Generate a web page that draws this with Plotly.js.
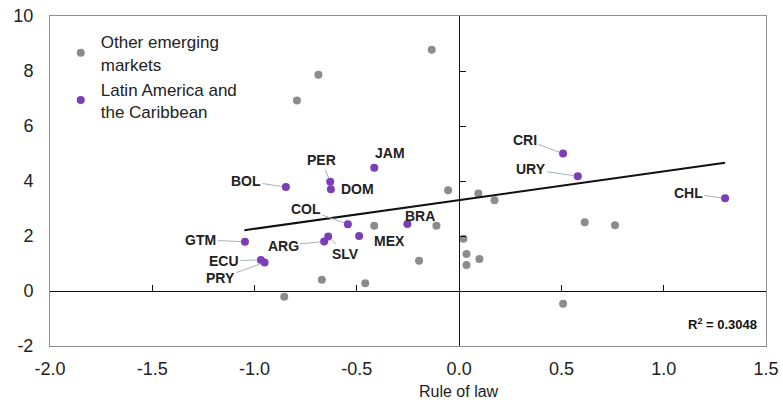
<!DOCTYPE html>
<html>
<head>
<meta charset="utf-8">
<script src="https://cdn.plot.ly/plotly-3.0.1.min.js"></script>
<style>html,body{margin:0;padding:0;background:#fff;}#chart{width:783px;height:405px;}</style>
</head>
<body>
<div id="chart"></div>
<script>
// ---- data ----
const otherX = [-0.134, -0.688, -0.793, -0.054, 0.094, 0.173, -0.415, -0.111, 0.021, 0.614, 0.762, 0.036, 0.099, 0.036, -0.196, -0.671, -0.459, -0.855, 0.508];
const otherY = [8.77, 7.86, 6.93, 3.66, 3.55, 3.30, 2.37, 2.37, 1.90, 2.50, 2.39, 1.35, 1.16, 0.95, 1.10, 0.41, 0.28, -0.21, -0.46];

const latCodes = ["JAM", "PER", "DOM", "BOL", "COL", "BRA", "MEX", "SLV", "ARG", "GTM", "ECU", "PRY", "CRI", "URY", "CHL"];
const latX = [-0.415, -0.630, -0.627, -0.847, -0.544, -0.253, -0.489, -0.640, -0.660, -1.047, -0.969, -0.951, 0.508, 0.580, 1.300];
const latY = [4.48, 3.97, 3.70, 3.78, 2.43, 2.44, 2.00, 1.98, 1.80, 1.79, 1.13, 1.04, 5.00, 4.17, 3.37];

const trendX = [-1.05, 1.30];
const trendY = [2.21, 4.66];

const xTickVals = [-2, -1.5, -1, -0.5, 0, 0.5, 1, 1.5];
const xTickText = ["-2.0", "-1.5", "-1.0", "-0.5", "0.0", "0.5", "1.0", "1.5"];
const yTickVals = [-2, 0, 2, 4, 6, 8, 10];
const yTickText = ["-2", "0", "2", "4", "6", "8", "10"];

const r2Text = "R<sup>2</sup> = 0.3048";
const xTitle = "Rule of law";
const legendOther = "Other emerging<br>markets";
const legendLatam = "Latin America and<br>the Caribbean";

// ---- label placement (pixel offsets of text relative to the point) ----
const labelOffsets = {
  JAM: [16, -15, false], PER: [-9, -22, true], DOM: [27, 0, false], BOL: [-40, -6, true],
  COL: [-42, -15, true], BRA: [13, -8, false], MEX: [30, 5, false], SLV: [17, 17, true],
  ARG: [-41, 4, true], GTM: [-44, -2, true], ECU: [-37, 1, true], PRY: [-44, 16, true],
  CRI: [-38, -14, true], URY: [-47, -7, true], CHL: [-37, -5, true]
};

const FONT = "Liberation Sans, Arial, sans-serif";
const GREY = "#8c8c8c";
const PURPLE = "#7b3db8";

const traces = [
  {
    type: "scatter", mode: "markers", name: legendOther,
    x: otherX, y: otherY,
    marker: {color: GREY, size: 8}
  },
  {
    type: "scatter", mode: "markers", name: legendLatam,
    x: latX, y: latY, text: latCodes, hoverinfo: "text+x+y",
    marker: {color: PURPLE, size: 8}
  },
  {
    type: "scatter", mode: "lines", showlegend: false,
    x: trendX, y: trendY, xaxis: "x2", yaxis: "y2",
    line: {color: "#111", width: 2}
  }
];

const annotations = latCodes.map((c, i) => {
  const o = labelOffsets[c];
  return {
    x: latX[i], y: latY[i], xref: "x", yref: "y",
    text: "<b>" + c + "</b>",
    showarrow: true, arrowhead: 0, arrowwidth: 1,
    arrowcolor: o[2] ? "#a9b0bd" : "rgba(0,0,0,0)",
    ax: o[0], ay: o[1], standoff: 4,
    font: {family: FONT, size: 14, color: "#222"}
  };
});
annotations.push({
  xref: "paper", yref: "paper", x: 0.99, y: 0.035, xanchor: "right", yanchor: "bottom",
  text: "<b>" + r2Text + "</b>", showarrow: false,
  font: {family: FONT, size: 13, color: "#111"}
});
annotations.push({
  xref: "x", yref: "paper", x: 0, y: -0.139, xanchor: "center", yanchor: "middle",
  text: xTitle, showarrow: false,
  font: {family: FONT, size: 16, color: "#222"}
});

const xr = [-2, 1.5], yr = [-2, 10];
const layout = {
  width: 783, height: 405,
  margin: {l: 50, r: 17, t: 16, b: 59},
  paper_bgcolor: "#fff", plot_bgcolor: "#fff",
  font: {family: FONT, size: 17, color: "#222"},
  showlegend: true,
  legend: {
    x: 0.015, y: 0.975, xanchor: "left", yanchor: "top",
    bgcolor: "rgba(255,255,255,0)", font: {family: FONT, size: 17, color: "#222"},
    itemwidth: 30, tracegroupgap: 4
  },
  xaxis: {
    range: xr, tickmode: "array", tickvals: xTickVals, ticktext: xTickText,
    showline: true, mirror: true, linecolor: "#8f8f8f", linewidth: 1,
    ticks: "", showgrid: false, zeroline: false, ticklabelstandoff: 6,
    tickfont: {family: FONT, size: 18, color: "#222"}
  },
  yaxis: {
    range: yr, tickmode: "array", tickvals: yTickVals, ticktext: yTickText,
    showline: true, mirror: true, linecolor: "#8f8f8f", linewidth: 1,
    ticks: "", showgrid: false, zeroline: false, ticklabelstandoff: 12,
    tickfont: {family: FONT, size: 18, color: "#222"}
  },
  xaxis2: {
    overlaying: "x", anchor: "free", position: (0 - yr[0]) / (yr[1] - yr[0]),
    range: xr, tickmode: "array", tickvals: xTickVals, side: "bottom",
    showline: true, linecolor: "#111", linewidth: 1.2,
    ticks: "inside", ticklen: 6, tickcolor: "#111", tickwidth: 1,
    showticklabels: false, showgrid: false, zeroline: false
  },
  yaxis2: {
    overlaying: "y", anchor: "free", position: (0 - xr[0]) / (xr[1] - xr[0]),
    range: yr, tickmode: "array", tickvals: yTickVals, side: "left",
    showline: true, linecolor: "#111", linewidth: 1.2,
    ticks: "inside", ticklen: 6, tickcolor: "#111", tickwidth: 1,
    showticklabels: false, showgrid: false, zeroline: false
  },
  annotations: annotations
};

Plotly.newPlot("chart", traces, layout, {displayModeBar: false, staticPlot: true});
</script>
</body>
</html>
